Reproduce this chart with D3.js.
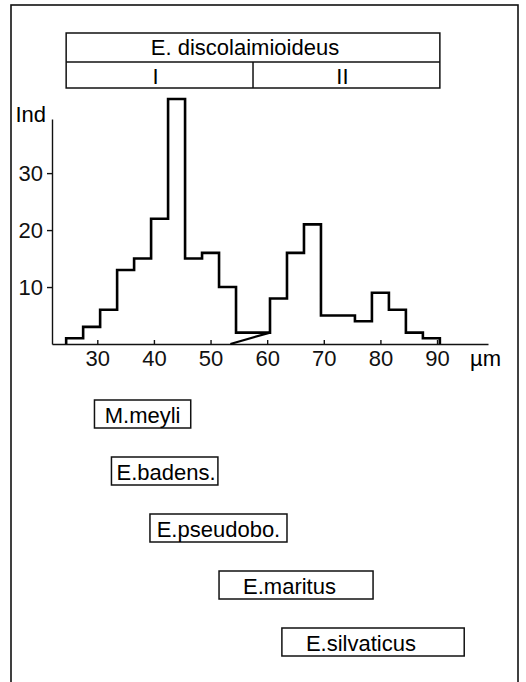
<!DOCTYPE html>
<html>
<head>
<meta charset="utf-8">
<script src="https://cdn.jsdelivr.net/npm/d3@7"></script>
<style>
  body { margin: 0; background: #fff; }
  svg { display: block; font-family: "Liberation Sans", Arial, Helvetica, sans-serif; }
</style>
</head>
<body>
<svg id="chart" width="526" height="682"></svg>
<script>
// histogram of body length (µm), bins of 3 µm
const binEdges = [24.5, 27.5, 30.5, 33.5, 36.5, 39.5, 42.5, 45.5, 48.5, 51.5, 54.5,
  60.5, 63.5, 66.5, 69.5, 75.5, 78.5, 81.5, 84.5, 87.5, 90.5];
const binCounts = [1, 3, 6, 13, 15, 22, 43, 15, 16, 10, 2,
  8, 16, 21, 5, 4, 9, 6, 2, 1];
// line separating population I from II
const splitLine = [[53.5, 0], [60.5, 2]];

const groupTitle = "E. discolaimioideus";
const groupNames = ["I", "II"];
const groupBounds = [24.5, 57.5, 90.5];

const speciesNames = ["M.meyli", "E.badens.", "E.pseudobo.", "E.maritus", "E.silvaticus"];
const speciesFrom = [29.5, 32.5, 39.3, 51.5, 62.6];
const speciesTo = [46.5, 51.3, 63.5, 78.7, 94.8];

const xTicks = [30, 40, 50, 60, 70, 80, 90];
const yTicks = [10, 20, 30];

const svg = d3.select("#chart");
const fontSize = 22;

// frame
svg.append("rect")
  .attr("x", 11).attr("y", 5)
  .attr("width", 507).attr("height", 700)
  .attr("fill", "none").attr("stroke", "#111").attr("stroke-width", 1.6);

const x = d3.scaleLinear().domain([22, 99]).range([52, 488]);
const y = d3.scaleLinear().domain([0, 39.5]).range([344, 119]);

// axes
const xAxis = svg.append("g")
  .attr("transform", `translate(0, ${y(0)})`)
  .call(d3.axisBottom(x).tickValues(xTicks).tickSizeInner(-4).tickSizeOuter(0).tickPadding(6));
const yAxis = svg.append("g")
  .attr("transform", `translate(${x(22)}, 0)`)
  .call(d3.axisLeft(y).tickValues(yTicks).tickSizeInner(5).tickSizeOuter(0).tickPadding(4));

[xAxis, yAxis].forEach(g => {
  g.selectAll("path, line").attr("stroke", "#111").attr("stroke-width", 1.4);
  g.selectAll("text")
    .attr("fill", "#111")
    .style("font-size", fontSize + "px")
    .style("font-family", "'Liberation Sans', Arial, sans-serif");
});

svg.append("text")
  .attr("x", 46).attr("y", 122)
  .attr("text-anchor", "end")
  .style("font-size", fontSize + "px")
  .text("Ind");

svg.append("text")
  .attr("x", 470).attr("y", 366)
  .style("font-size", fontSize + "px")
  .text("µm");

// histogram outline
const pts = [[binEdges[0], 0]];
binCounts.forEach((c, i) => {
  pts.push([binEdges[i], c]);
  pts.push([binEdges[i + 1], c]);
});
pts.push([binEdges[binEdges.length - 1], 0]);

const line = d3.line().x(d => x(d[0])).y(d => y(d[1]));

svg.append("path")
  .attr("d", line(pts))
  .attr("fill", "none")
  .attr("stroke", "#000")
  .attr("stroke-width", 2.6)
  .attr("stroke-linejoin", "miter");

svg.append("path")
  .attr("d", line(splitLine))
  .attr("fill", "none")
  .attr("stroke", "#000")
  .attr("stroke-width", 2.2);

// header box
const hdrTop = 33, hdrMid = 62, hdrBot = 88;
const hdr = svg.append("g")
  .attr("fill", "none").attr("stroke", "#111").attr("stroke-width", 1.5);
hdr.append("rect")
  .attr("x", x(groupBounds[0])).attr("y", hdrTop)
  .attr("width", x(groupBounds[2]) - x(groupBounds[0])).attr("height", hdrBot - hdrTop);
hdr.append("line")
  .attr("x1", x(groupBounds[0])).attr("x2", x(groupBounds[2]))
  .attr("y1", hdrMid).attr("y2", hdrMid);
hdr.append("line")
  .attr("x1", x(groupBounds[1])).attr("x2", x(groupBounds[1]))
  .attr("y1", hdrMid).attr("y2", hdrBot);

svg.append("text")
  .attr("x", (x(groupBounds[0]) + x(groupBounds[2])) / 2 - 8)
  .attr("y", (hdrTop + hdrMid) / 2)
  .attr("text-anchor", "middle")
  .attr("dominant-baseline", "central")
  .style("font-size", fontSize + "px")
  .text(groupTitle);

svg.selectAll(".grp")
  .data(groupNames)
  .enter()
  .append("text")
  .attr("class", "grp")
  .attr("x", (d, i) => (x(groupBounds[i]) + x(groupBounds[i + 1])) / 2 - 4)
  .attr("y", (hdrMid + hdrBot) / 2 + 1)
  .attr("text-anchor", "middle")
  .attr("dominant-baseline", "central")
  .style("font-size", fontSize + "px")
  .text(d => d);

// species ranges
const row = d3.scalePoint().domain(speciesNames).range([414, 642]);
const boxH = 28;

const sp = svg.selectAll(".species")
  .data(speciesNames)
  .enter()
  .append("g")
  .attr("class", "species");

sp.append("rect")
  .attr("x", (d, i) => x(speciesFrom[i]))
  .attr("y", d => row(d) - boxH / 2)
  .attr("width", (d, i) => x(speciesTo[i]) - x(speciesFrom[i]))
  .attr("height", boxH)
  .attr("fill", "none")
  .attr("stroke", "#111")
  .attr("stroke-width", 1.5);

sp.append("text")
  .attr("y", d => row(d) + 1)
  .attr("dominant-baseline", "central")
  .style("font-size", fontSize + "px")
  .text(d => d)
  .attr("x", function (d, i) {
    const x0 = x(speciesFrom[i]);
    const w = x(speciesTo[i]) - x0;
    const tw = this.getComputedTextLength();
    return x0 + Math.max(5, Math.min((w - tw) / 2, 24));
  });
</script>
</body>
</html>
